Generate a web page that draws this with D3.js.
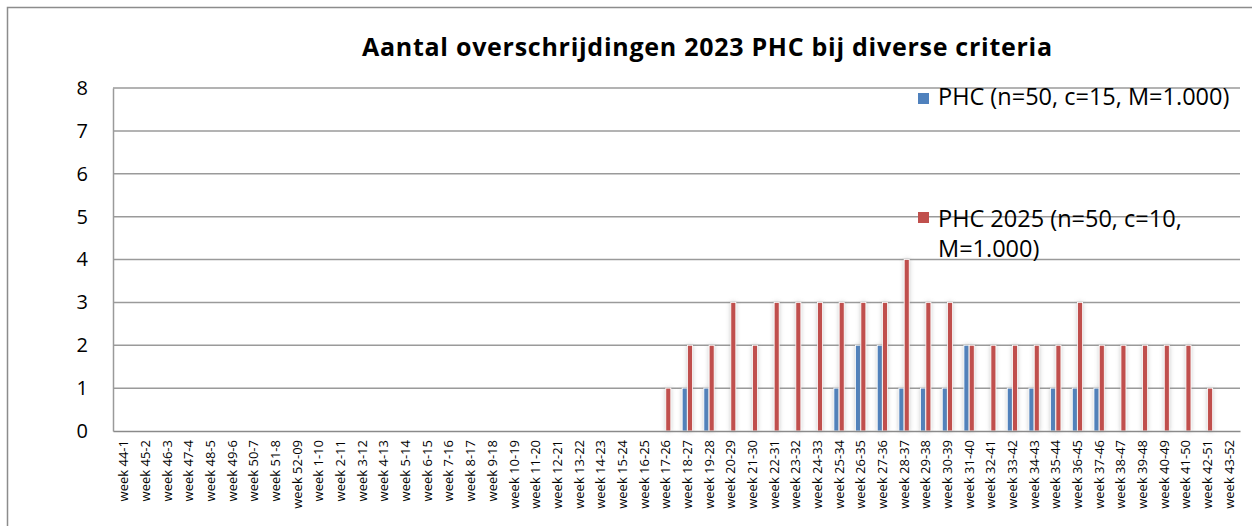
<!DOCTYPE html>
<html>
<head>
<meta charset="utf-8">
<script src="https://cdn.jsdelivr.net/npm/d3@7"></script>
<style>
  html, body { margin: 0; padding: 0; background: #fff; }
  svg { display: block; font-family: "Open Sans", "Liberation Sans", sans-serif; }
</style>
</head>
<body>
<svg id="chart" width="1252" height="526"></svg>
<script>
const categories = [
  "week 44-1","week 45-2","week 46-3","week 47-4","week 48-5","week 49-6","week 50-7","week 51-8","week 52-09",
  "week 1-10","week 2-11","week 3-12","week 4-13","week 5-14","week 6-15","week 7-16","week 8-17","week 9-18",
  "week 10-19","week 11-20","week 12-21","week 13-22","week 14-23","week 15-24","week 16-25","week 17-26",
  "week 18-27","week 19-28","week 20-29","week 21-30","week 22-31","week 23-32","week 24-33","week 25-34",
  "week 26-35","week 27-36","week 28-37","week 29-38","week 30-39","week 31-40","week 32-41","week 33-42",
  "week 34-43","week 35-44","week 36-45","week 37-46","week 38-47","week 39-48","week 40-49","week 41-50",
  "week 42-51","week 43-52"
];
const phc = [
  0,0,0,0,0,0,0,0,0,
  0,0,0,0,0,0,0,0,0,
  0,0,0,0,0,0,0,0,
  1,1,0,0,0,0,0,1,
  2,2,1,1,1,2,0,1,
  1,1,1,1,0,0,0,0,
  0,0
];
const phc2025 = [
  0,0,0,0,0,0,0,0,0,
  0,0,0,0,0,0,0,0,0,
  0,0,0,0,0,0,0,1,
  2,2,3,2,3,3,3,3,
  3,3,4,3,3,2,2,2,
  2,2,3,2,2,2,2,2,
  1,0
];
const seriesNames = ["PHC (n=50, c=15, M=1.000)", "PHC 2025 (n=50, c=10, M=1.000)"];
const seriesColors = ["#4F81BD", "#C0504D"];
const yTicks = [0,1,2,3,4,5,6,7,8];
const title = "Aantal overschrijdingen 2023 PHC bij diverse criteria";

const svg = d3.select("#chart");
const W = 1252, H = 526;
const m = { left: 113, right: 12, top: 88, bottom: 95 };
const x1pos = W - m.right, y0pos = H - m.bottom;

// outer frame
svg.append("rect").attr("x", 7.5).attr("y", 7.5).attr("width", 1260).attr("height", 540)
  .attr("fill", "none").attr("stroke", "#8c8c8c").attr("stroke-width", 1.5);

const defs = svg.append("defs");
const f = defs.append("filter").attr("id", "shadow").attr("x", "-100%").attr("y", "-10%").attr("width", "300%").attr("height", "120%");
f.append("feDropShadow").attr("dx", 0).attr("dy", 0).attr("stdDeviation", 2).attr("flood-color", "#888").attr("flood-opacity", 0.45);

const x0 = d3.scaleBand().domain(categories).range([m.left, x1pos]).paddingInner(0.5).paddingOuter(0.25);
const x1 = d3.scaleBand().domain([0, 1]).range([0, x0.bandwidth()]).padding(0.05);
const y = d3.scaleLinear().domain([0, 8]).range([y0pos, m.top]);

// gridlines
svg.append("g").selectAll("line").data(yTicks.filter(t => t > 0)).join("line")
  .attr("x1", m.left).attr("x2", x1pos)
  .attr("y1", d => y(d)).attr("y2", d => y(d))
  .attr("stroke", "#9a9a9a").attr("stroke-width", 1.5);

// y axis
const yAxis = svg.append("g").attr("transform", `translate(${m.left},0)`)
  .call(d3.axisLeft(y).tickValues(yTicks).tickSize(0).tickPadding(25).tickFormat(d3.format("d")));
yAxis.select(".domain").attr("stroke", "#9a9a9a").attr("stroke-width", 1.5);
yAxis.selectAll("text").attr("font-size", 20).attr("fill", "#000")
  .attr("font-family", "'Open Sans', 'Liberation Sans', sans-serif");

// bars
const data = categories.map((c, i) => ({ c, v: [phc[i], phc2025[i]] }));
const groups = svg.append("g").selectAll("g").data(data).join("g")
  .attr("transform", d => `translate(${x0(d.c)},0)`);
groups.selectAll("rect").data(d => d.v.map((v, k) => ({ v, k })).filter(e => e.v > 0)).join("rect")
  .attr("x", e => x1(e.k)).attr("width", x1.bandwidth())
  .attr("y", e => y(e.v)).attr("height", e => y(0) - y(e.v))
  .attr("fill", e => seriesColors[e.k])
  .attr("stroke", "#fff").attr("stroke-width", 0.8)
  .attr("filter", "url(#shadow)");

// x axis
const xAxis = svg.append("g").attr("transform", `translate(0,${y0pos})`)
  .call(d3.axisBottom(x0).tickSize(0).tickPadding(0));
xAxis.select(".domain").attr("stroke", "#8a8a8a").attr("stroke-width", 1.5);
xAxis.selectAll("text")
  .attr("font-size", 13).attr("fill", "#000")
  .attr("transform", "rotate(-90)")
  .attr("text-anchor", "end")
  .attr("dx", "-9").attr("dy", "0.35em")
  .attr("y", 0).attr("x", 0)
  .attr("font-family", "'Open Sans', 'Liberation Sans', sans-serif");

// title
svg.append("text").attr("x", 707).attr("y", 56).attr("text-anchor", "middle")
  .attr("font-size", 25).attr("font-weight", "bold").attr("fill", "#000")
  .attr("textLength", 690).attr("lengthAdjust", "spacing")
  .text(title);

// legend
const legend = svg.append("g");
legend.append("rect").attr("x", 918).attr("y", 93).attr("width", 11).attr("height", 11).attr("fill", seriesColors[0]);
legend.append("text").attr("x", 938).attr("y", 105).attr("font-size", 23.5).attr("fill", "#000").text(seriesNames[0]);
legend.append("rect").attr("x", 918).attr("y", 212).attr("width", 11).attr("height", 11).attr("fill", seriesColors[1]);
const t2 = legend.append("text").attr("x", 938).attr("y", 227).attr("font-size", 23.5).attr("fill", "#000");
t2.append("tspan").attr("x", 938).text("PHC 2025 (n=50, c=10,");
t2.append("tspan").attr("x", 938).attr("dy", 30).text("M=1.000)");
</script>
</body>
</html>
